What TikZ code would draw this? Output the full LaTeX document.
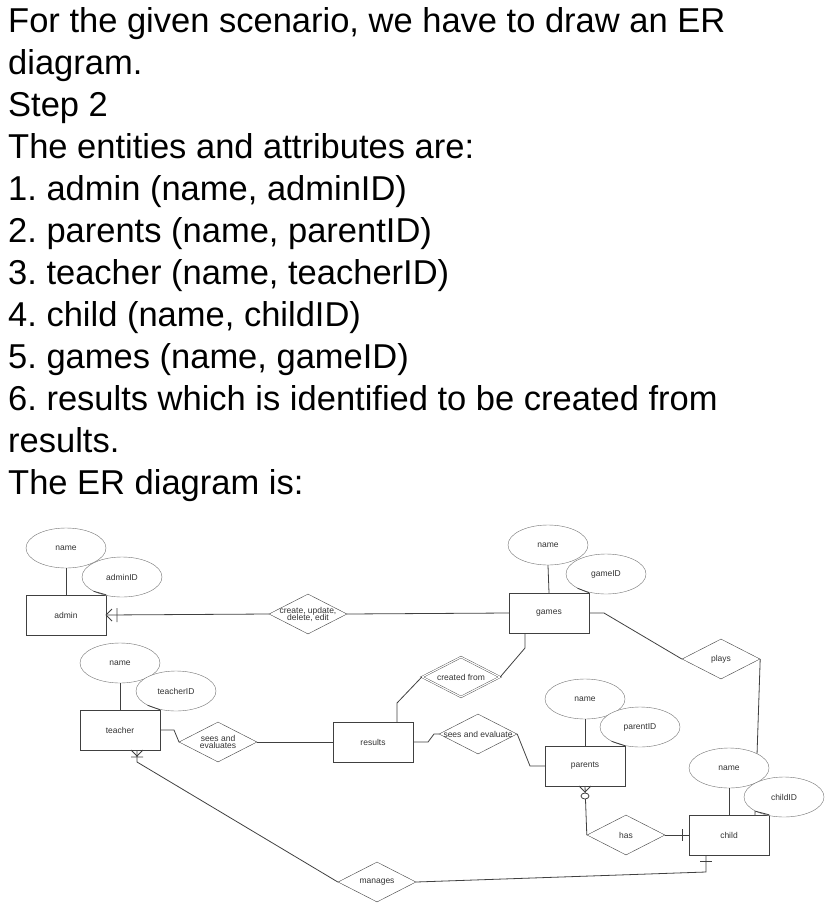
\documentclass[tikz,border=0pt]{standalone}
\usepackage{fontspec}
\setmainfont{Liberation Sans}
\usetikzlibrary{shapes.geometric}
\frenchspacing
\begin{document}
\begin{tikzpicture}[x=1pt,y=-1pt,
  txt/.style={anchor=base west,inner sep=0,font=\fontsize{34.5}{38}\selectfont},
  ent/.style={draw=black!75,fill=white,minimum width=80pt,minimum height=40pt,inner sep=0,font=\fontsize{8.5}{9}\selectfont,text=black!80},
  att/.style={draw=black!55,fill=white,ellipse,minimum width=80pt,minimum height=40pt,inner sep=0,font=\fontsize{8.5}{9}\selectfont,text=black!80},
  rel/.style={draw=black!75,fill=white,diamond,minimum width=78pt,minimum height=40pt,inner sep=0},
  lab/.style={inner sep=0,font=\fontsize{8.5}{9}\selectfont,text=black!80,align=center},
  ln/.style={draw=black!75,line width=0.8pt}]
\useasboundingbox (0,0) rectangle (831,908);
\node[txt] (t1) at (8,32) {For the given scenario, we have to draw an ER};
\node[txt] (t2) at (8,74) {diagram.};
\node[txt] (t3) at (8,116) {Step 2};
\node[txt] (t4) at (8,158) {The entities and attributes are:};
\node[txt] (t5) at (8,200) {1. admin (name, adminID)};
\node[txt] (t6) at (8,242) {2. parents (name, parentID)};
\node[txt] (t7) at (8,284) {3. teacher (name, teacherID)};
\node[txt] (t8) at (8,326) {4. child (name, childID)};
\node[txt] (t9) at (8,368) {5. games (name, gameID)};
\node[txt] (t10) at (8,410) {6. results which is identified to be created from};
\node[txt] (t11) at (8,452) {results.};
\node[txt] (t12) at (8,494) {The ER diagram is:};

\coordinate (adminE) at (106,615);
\coordinate (gamesS) at (525,633);
\coordinate (resN) at (397,722);
\coordinate (teaS) at (137,750);
\coordinate (parS) at (585,786);
\coordinate (chS) at (706,855);
\coordinate (chN) at (755,815);
\coordinate (chW) at (689,835);
\coordinate (gamesE) at (589,613);

\node[ent] (admin) at (66,615) {admin};
\node[ent] (games) at (549,613) {games};
\node[ent] (teacher) at (120,730) {teacher};
\node[ent] (results) at (373,742) {results};
\node[ent] (parents) at (585,766) {parents};
\node[ent] (child) at (729,835) {child};

\node[rel] (cud) at (308,614) {};
\node[rel] (plays) at (721,659) {};
\node[rel] (se1) at (218,742) {};
\node[rel] (se2) at (478,734) {};
\node[rel,double,double distance=1.2pt] (cf) at (461,677) {};
\node[rel] (has) at (626,835) {};
\node[rel] (man) at (377,882) {};
\node[lab] (cudl) at (cud) {create, update,\\[-2pt]delete, edit};
\node[lab] (playsl) at (plays) {plays};
\node[lab] (se1l) at (se1) {sees and\\[-2pt]evaluates};
\node[lab] (se2l) at (se2) {sees and evaluate};
\node[lab] (cfl) at (cf) {created from};
\node[lab] (hasl) at (has) {has};
\node[lab] (manl) at (man) {manages};

\path[ln] (admin.east) -- (cud.west);
\path[ln] (cud.east) -- (games.west);
\path[ln] (gamesS) -- (525,648) -- (cf.east);
\path[ln] (cf.west) -- (397,703) -- (resN);
\path[ln] (results.east) -- (428,742) -- (434,734) -- (se2.west);
\path[ln] (se2.east) -- (530,766) -- (parents.west);
\path[ln] (teacher.east) -- (174,730) -- (179,742) -- (se1.west);
\path[ln] (se1.east) -- (results.west);
\path[ln] (gamesE) -- (604,613) -- (plays.west);
\path[ln] (plays.east) -- (chN);
\path[ln] (parS) -- (has.west);
\path[ln] (has.east) -- (chW);
\path[ln] (teaS) -- (137,762) -- (man.west);
\path[ln] (man.east) -- (706,872) -- (chS);

\node[att] (an) at (66,548) {name};
\node[att] (aid) at (122,577) {adminID};
\node[att] (gn) at (548,545) {name};
\node[att] (gid) at (606,574) {gameID};
\node[att] (tn) at (120,663) {name};
\node[att] (tid) at (176,691) {teacherID};
\node[att] (pn) at (585,699) {name};
\node[att] (pid) at (640,727) {parentID};
\node[att] (cn) at (729,768) {name};
\node[att] (cid) at (784,797) {childID};
\path[ln] (an.south) -- (admin.north);
\path[ln] (gn.south) -- (games.north);
\path[ln] (tn.south) -- (teacher.north);
\path[ln] (pn.south) -- (parents.north);
\path[ln] (cn.south) -- (child.north);
\path[ln] (aid.south west) -- (admin.north east);
\path[ln] (gid.south west) -- (games.north east);
\path[ln] (tid.south west) -- (teacher.north east);
\path[ln] (pid.south west) -- (parents.north east);
\path[ln] (cid.south west) -- (child.north east);

\path[ln] (adminE) -- (112,609) (adminE) -- (112,621) (117,608) -- (117,622);
\path[ln] (131,750) -- (137,756) -- (143,750) (131,757) -- (143,757);
\path[ln] (579,786) -- (585,792) -- (591,786);
\draw[ln,fill=white] (585,796) ellipse (4pt and 3pt);
\path[ln] (682,829) -- (682,841);
\path[ln] (700,861) -- (712,861);
\end{tikzpicture}
\end{document}
